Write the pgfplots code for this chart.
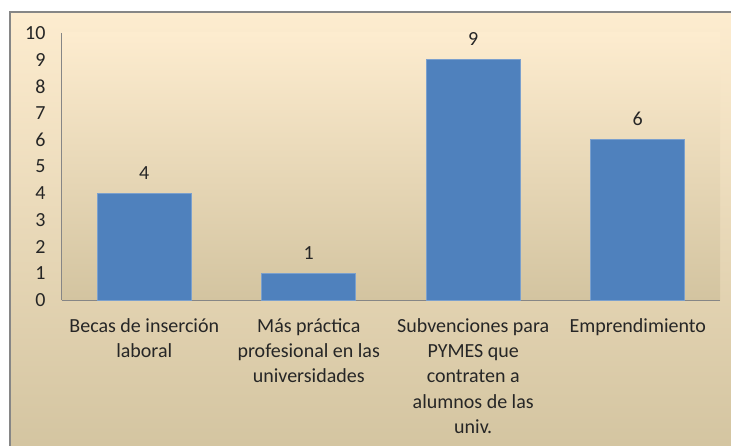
\documentclass[border=0pt]{standalone}
\usepackage{pgfplots}
\pgfplotsset{compat=1.18}
\usepackage{fontspec}
\setmainfont{Carlito}
\definecolor{cream}{HTML}{FDECCF}
\definecolor{tanc}{HTML}{D3C4A0}
\definecolor{barblue}{HTML}{4F81BD}
\definecolor{axgray}{HTML}{868686}
\definecolor{txt}{HTML}{262626}
\begin{document}
\begin{tikzpicture}[x=1pt,y=1pt]
\useasboundingbox (0,0) rectangle (731,445);
\clip (0,0) rectangle (731,445);
\fill[white] (0,0) rectangle (731,445);
\shade[top color=cream, bottom color=tanc] (10,-10) rectangle (760,433);
\draw[axgray, line width=2pt] (10,-10) -- (10,433) -- (760,433);
\begin{axis}[
  at={(62pt,145pt)}, anchor=south west,
  width=658pt, height=267pt, scale only axis,
  xmin=-0.5, xmax=3.5, ymin=0, ymax=10,
  axis x line=bottom, axis y line=left,
  axis line style={axgray, -, line width=1pt},
  ytick={0,1,...,10}, major tick length=0pt,
  xtick={0,1,2,3},
  xticklabels={{Becas de inserción\\laboral},{Más práctica\\profesional en las\\universidades},{Subvenciones para\\PYMES que\\contraten a\\alumnos de las\\univ.},{Emprendimiento}},
  tick label style={font=\fontsize{20}{25}\selectfont, text=txt},
  xticklabel style={align=center, anchor=north, yshift=-15pt, font=\fontsize{20}{25.2}\selectfont},
  yticklabel style={anchor=east, xshift=-13pt},
  /pgf/number format/assume math mode=true,
  ybar, bar width=94pt,
  nodes near coords,
  nodes near coords style={font=\fontsize{20}{25}\selectfont, text=txt, yshift=10pt},
  axis background/.style={top color=cream, bottom color=tanc},
]
\addplot[fill=barblue, draw=barblue!75!white, line width=0.8pt] coordinates {(0,4) (1,1) (2,9) (3,6)};
\end{axis}
\end{tikzpicture}
\end{document}
